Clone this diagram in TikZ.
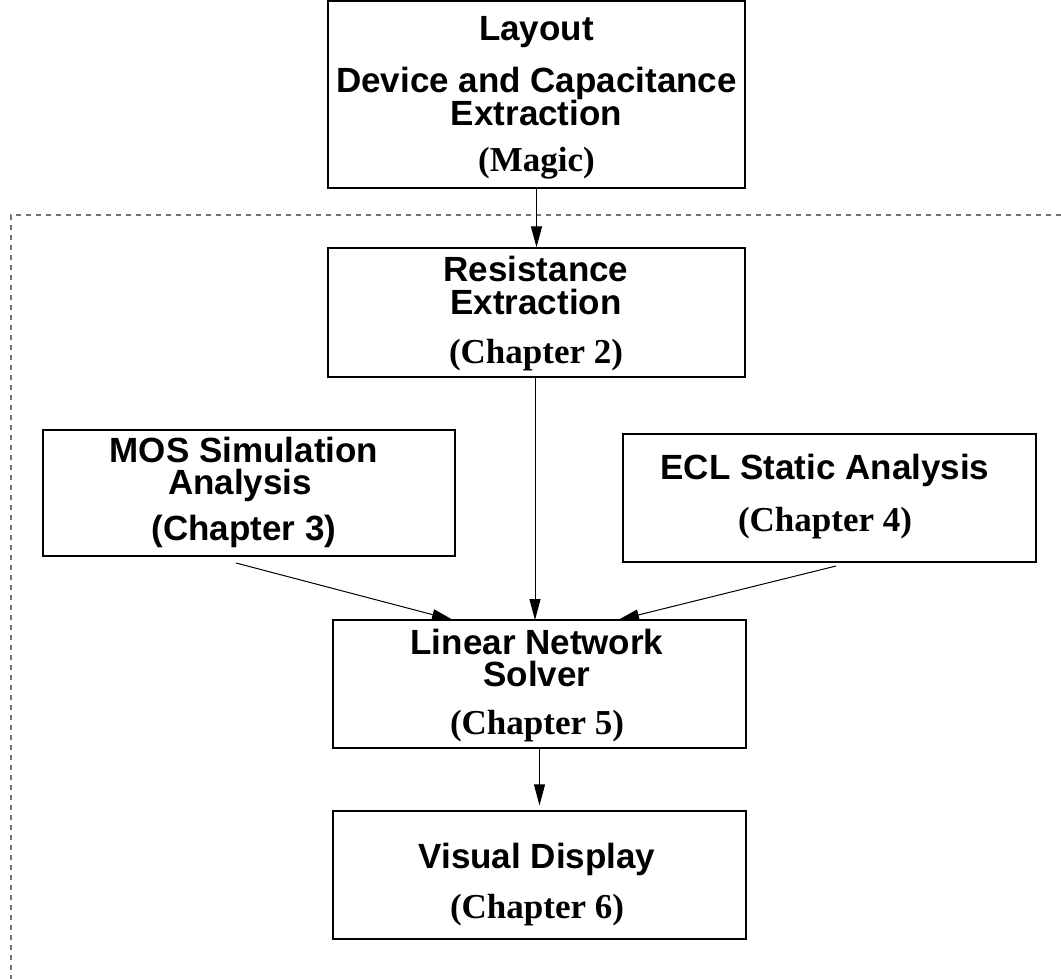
\documentclass[tikz,border=0pt]{standalone}
\usepackage{fontspec}
\setmainfont{Liberation Sans}
\newfontfamily\serifb{Liberation Serif}
\usetikzlibrary{arrows.meta}
\begin{document}
\begin{tikzpicture}[x=1pt,y=-1pt,
  box/.style={draw, line width=1.3pt, inner sep=0pt},
  txt/.style={anchor=base, inner sep=0pt, font=\bfseries\fontsize{35}{35}\selectfont},
  chap/.style={anchor=base, inner sep=0pt, font=\serifb\bfseries\fontsize{35}{35}\selectfont},
  arr/.style={line width=1pt, -{Triangle[length=21pt,width=11pt]}},
  frame/.style={draw=black!55, line width=1.2pt, dash pattern=on 5pt off 5pt}]
\useasboundingbox (0,0) rectangle (1061,979);
\fill[white] (0,0) rectangle (1061,979);
\draw[frame] (1061,215) -- (11,215) -- (11,979);
% boxes
\node[box, minimum width=417pt, minimum height=187pt] (layout) at (536.5,94.5) {};
\node[box, minimum width=417pt, minimum height=129pt] (res) at (536.5,312.5) {};
\node[box, minimum width=412pt, minimum height=126pt] (mos) at (249,493) {};
\node[box, minimum width=413pt, minimum height=128pt] (ecl) at (829.5,498) {};
\node[box, minimum width=413pt, minimum height=128pt] (lin) at (539.5,684) {};
\node[box, minimum width=413pt, minimum height=128pt] (vis) at (539.5,875) {};
% texts
\node[txt] (layout1) at (536.5,41) {Layout};
\node[txt] (layout2) at (536.5,93) {Device and Capacitance};
\node[txt] (layout3) at (536.5,126) {Extraction};
\node[chap] (layout4) at (536.5,172) {(Magic)};
\node[txt] (res1) at (536,281) {Resistance};
\node[txt] (res2) at (536,314) {Extraction};
\node[chap] (res3) at (536,363) {(Chapter 2)};
\node[txt] (mos1) at (244,462) {MOS Simulation};
\node[txt] (mos2) at (240,494) {Analysis};
\node[txt] (mos3) at (244,540) {(Chapter 3)};
\node[txt] (ecl1) at (825,479) {ECL Static Analysis};
\node[chap] (ecl2) at (825,531) {(Chapter 4)};
\node[txt] (lin1) at (537,654) {Linear Network};
\node[txt] (lin2) at (537,686) {Solver};
\node[chap] (lin3) at (537,734) {(Chapter 5)};
\node[txt] (vis1) at (537,868) {Visual Display};
\node[chap] (vis2) at (537,918) {(Chapter 6)};
% connectors
\coordinate (mosS) at (236,563);
\coordinate (mosT) at (453,620);
\coordinate (eclS) at (836,566);
\coordinate (eclT) at (618,620);
\coordinate (resS) at (535,377);
\coordinate (resT) at (535,620);
\draw[arr] (layout) -- (res);
\draw[arr] (resS) -- (resT);
\draw[arr] (mosS) -- (mosT);
\draw[arr] (eclS) -- (eclT);
\draw[arr] (lin.south) -- ([yshift=5pt]vis.north);
\end{tikzpicture}
\end{document}
